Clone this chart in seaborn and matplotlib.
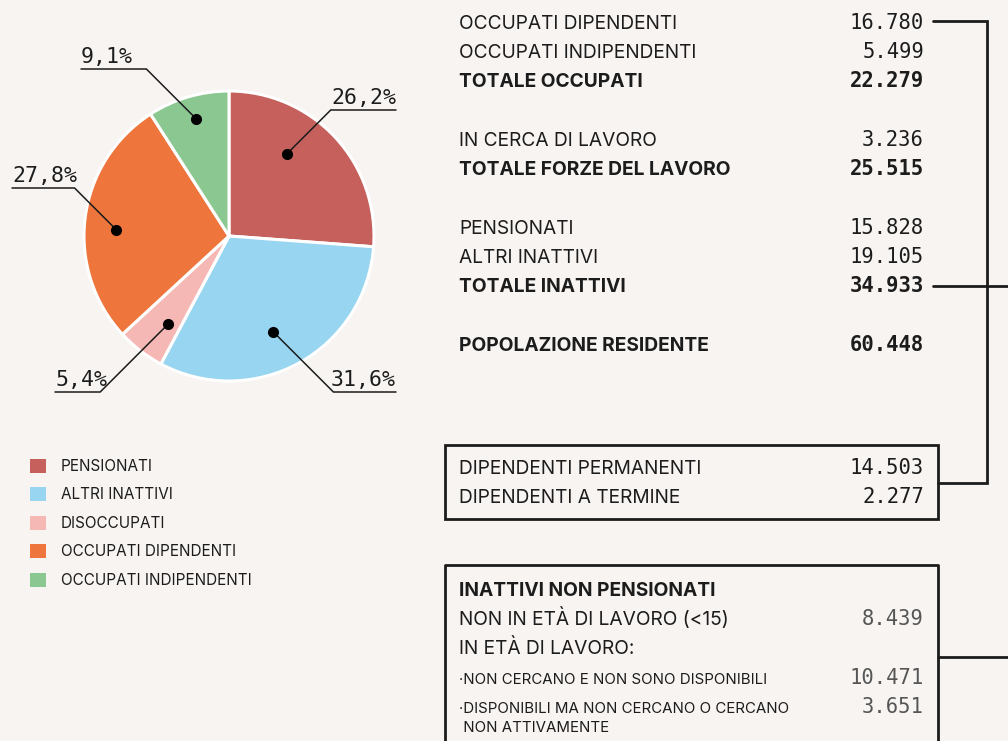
import numpy as np
import seaborn as sns
import matplotlib.pyplot as plt
from matplotlib.patches import Rectangle

# pie data (migliaia)
categorie = ["PENSIONATI", "ALTRI INATTIVI", "DISOCCUPATI",
             "OCCUPATI DIPENDENTI", "OCCUPATI INDIPENDENTI"]
valori = [15828, 19105, 3236, 16780, 5499]
colori = ["#c6605c", "#98d5f0", "#f6b8b4", "#ee753c", "#8bc791"]

# right-hand table
tab_etichette = ["OCCUPATI DIPENDENTI", "OCCUPATI INDIPENDENTI", "TOTALE OCCUPATI",
                 "IN CERCA DI LAVORO", "TOTALE FORZE DEL LAVORO",
                 "PENSIONATI", "ALTRI INATTIVI", "TOTALE INATTIVI",
                 "POPOLAZIONE RESIDENTE"]
tab_valori = [16780, 5499, 22279, 3236, 25515, 15828, 19105, 34933, 60448]
tab_bold = [False, False, True, False, True, False, False, True, True]

box1_etichette = ["DIPENDENTI PERMANENTI", "DIPENDENTI A TERMINE"]
box1_valori = [14503, 2277]

box2_titolo = "INATTIVI NON PENSIONATI"
box2_etichette = ["NON IN ETÀ DI LAVORO (<15)", "IN ETÀ DI LAVORO:",
                  "·NON CERCANO E NON SONO DISPONIBILI",
                  "·DISPONIBILI MA NON CERCANO O CERCANO\n NON ATTIVAMENTE"]
box2_valori = [8439, None, 10471, 3651]


def fmt(v):
    return f"{v:,}".replace(",", ".")


BG = "#f7f4f2"
INK = "#1c1c1c"
sns.set_theme(style="white", rc={"figure.facecolor": BG, "axes.facecolor": BG})
plt.rcParams["font.family"] = ["Inter", "DejaVu Sans"]
MONO = "DejaVu Sans Mono"

W, H = 1008, 741
fig = plt.figure(figsize=(W / 100, H / 100), dpi=100)

# pie geometry in pixels
cx, cy, R = 229, 236, 145
pad = 1.05
pax = fig.add_axes([(cx - R * pad) / W, (H - cy - R * pad) / H,
                    2 * R * pad / W, 2 * R * pad / H])
wedges, _ = pax.pie(valori, colors=colori, startangle=90, counterclock=False,
                    wedgeprops=dict(edgecolor="white", linewidth=2.2))
pax.set_xlim(-pad, pad)
pax.set_ylim(-pad, pad)
pax.set_aspect("equal")
pax.axis("off")

# overlay in pixel coordinates
ov = fig.add_axes([0, 0, 1, 1], zorder=5)
ov.set_xlim(0, W)
ov.set_ylim(H, 0)
ov.axis("off")
ov.patch.set_alpha(0)

# percentage labels with leader lines
tot = sum(valori)
livelli = [110, 392, 392, 188, 69]
fine_x = [396, 396, 55, 12, 81]
raggio_pt = [0.69, 0.73, 0.74, 0.78, 0.84]
sposta_ang = [12, -4, 3, 4, -0.7]
for w, v, ly, ex, rr, da in zip(wedges, valori, livelli, fine_x, raggio_pt, sposta_ang):
    ang = np.deg2rad((w.theta1 + w.theta2) / 2 + da)
    dx = cx + rr * R * np.cos(ang)
    dy = cy - rr * R * np.sin(ang)
    side = 1 if ex > cx else -1
    kx = dx + side * abs(ly - dy)
    ov.plot([dx, kx, ex], [dy, ly, ly], color=INK, lw=1.1, solid_joinstyle="miter")
    ov.plot(dx, dy, "o", color="black", ms=7)
    txt = f"{100 * v / tot:.1f}".replace(".", ",") + "%"
    ov.text(ex, ly - 6, txt, ha="right" if side > 0 else "left", va="baseline",
            fontsize=15.5, family=MONO, color=INK)

# legend
fig.legend(wedges, categorie, loc="upper left", bbox_to_anchor=(16 / W, 1 - 445 / H),
           frameon=False, handlelength=1.05, handleheight=1.05, handletextpad=1.0,
           labelspacing=0.86, fontsize=11, labelcolor=INK)
for h in fig.legends[0].legend_handles:
    h.set_edgecolor("none")

# table
LX, NX = 459, 924
FS = 13.8
NFS = 14.8
righe_y = [29, 58, 87, 146, 175, 234, 263, 292, 351]
for lab, v, b, y in zip(tab_etichette, tab_valori, tab_bold, righe_y):
    ov.text(LX, y, lab, fontsize=FS, color=INK, va="baseline",
            fontweight="bold" if b else "normal")
    ov.text(NX, y, fmt(v), fontsize=NFS, family=MONO, color=INK, va="baseline",
            ha="right", fontweight="bold" if b else "normal")

# box 1
ov.add_patch(Rectangle((445, 445), 493, 74, fill=False, lw=2, ec=INK))
for lab, v, y in zip(box1_etichette, box1_valori, [474, 503]):
    ov.text(LX, y, lab, fontsize=FS, color=INK, va="baseline")
    ov.text(NX, y, fmt(v), fontsize=NFS, family=MONO, color=INK, va="baseline", ha="right")

# box 2
ov.plot([445, 445, 938, 938], [H + 5, 565, 565, H + 5], color=INK, lw=2)
ov.text(LX, 596, box2_titolo, fontsize=FS, color=INK, va="baseline", fontweight="bold")
for lab, v, y, fs in zip(box2_etichette, box2_valori, [625, 654, 684, 713],
                         [FS, FS, 10.8, 10.8]):
    for k, riga in enumerate(lab.split("\n")):
        ov.text(LX, y + 19 * k, riga, fontsize=fs, color=INK, va="baseline")
    if v is not None:
        ov.text(NX, y, fmt(v), fontsize=NFS, family=MONO, color="#555555",
                va="baseline", ha="right")

# connectors
ov.plot([933, 987, 987, 938], [21, 21, 483, 483], color=INK, lw=2,
        solid_joinstyle="miter")
ov.plot([933, W + 5], [286, 286], color=INK, lw=2)
ov.plot([938, W + 5], [657, 657], color=INK, lw=2)

fig.savefig("out.png", dpi=100, facecolor=BG)
